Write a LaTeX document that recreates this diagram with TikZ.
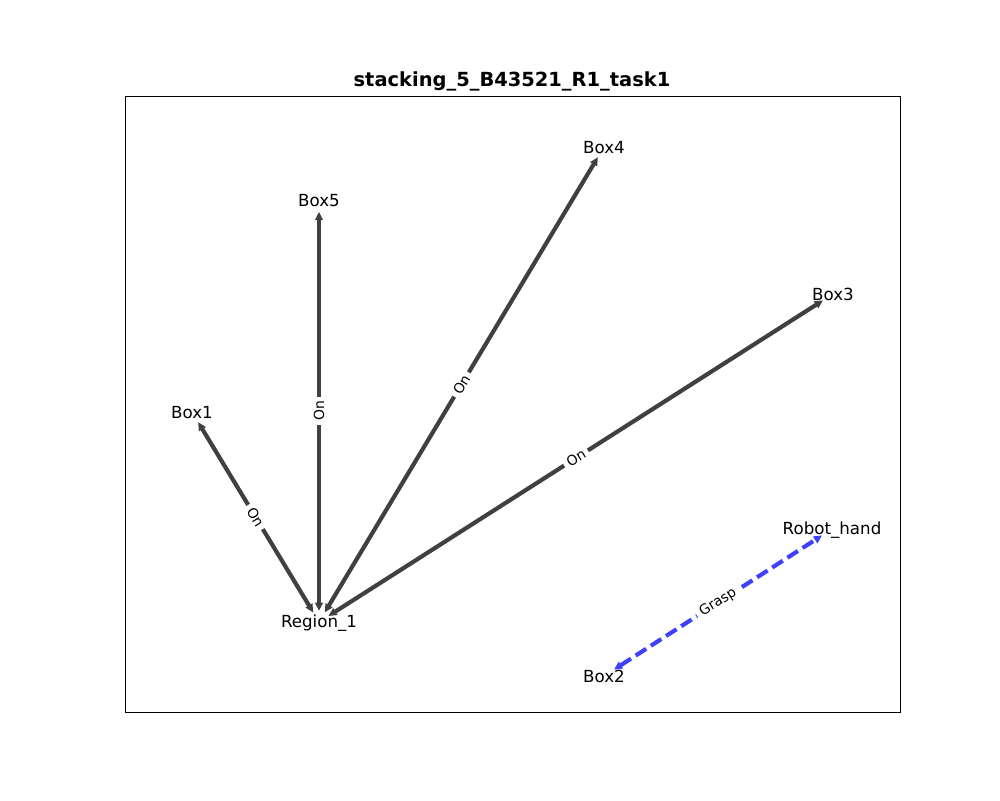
\documentclass[tikz,border=0pt]{standalone}
\usepackage{fontspec}
\setmainfont{DejaVu Sans}
\usetikzlibrary{arrows.meta}
\begin{document}
\begin{tikzpicture}[x=0.72pt,y=-0.72pt,
  lbl/.style={font=\fontsize{12}{14}\selectfont, inner sep=0pt},
  elbl/.style={font=\fontsize{10}{12}\selectfont, fill=white, inner sep=3pt, sloped, midway},
  onedge/.style={draw=black!75, line width=3pt, {Triangle[length=6pt,width=5.5pt]}-{Triangle[length=6pt,width=5.5pt]}, shorten <=8pt, shorten >=8.5pt},
  graspedge/.style={draw=blue!75, line width=3pt, dash pattern=on 9pt off 4pt, {Triangle[length=6pt,width=5.5pt]}-{Triangle[length=6pt,width=5.5pt]}, shorten <=8.5pt, shorten >=8.5pt},
  frame/.style={draw=black, line width=0.8pt}
]
\useasboundingbox (0,0) rectangle (1000,800);
\node[frame, minimum width=775*0.72pt, minimum height=616*0.72pt, inner sep=0pt, anchor=north west] (axes) at (125,96) {};
\node[font=\bfseries\fontsize{14}{17}\selectfont, inner sep=0pt] (title) at (512,81) {stacking\_5\_B43521\_R1\_task1};

\coordinate (region) at (319,622);
\coordinate (box1) at (192,412);
\coordinate (box5) at (319,200);
\coordinate (box4) at (604,147);
\coordinate (box3) at (833,294);
\coordinate (hand) at (832,529);
\coordinate (box2) at (604,676);

\node[lbl] (lregion) at (319,623) {Region\_1};
\node[lbl] (lbox1) at (192,413) {Box1};
\node[lbl] (lbox5) at (319,201) {Box5};
\node[lbl] (lbox4) at (604,148) {Box4};
\node[lbl] (lbox3) at (833,294) {Box3};
\node[lbl] (lhand) at (832,530) {Robot\_hand};
\node[lbl] (lbox2) at (604,676) {Box2};

\draw[onedge] (region) -- node[elbl] (e1) {On} (box1);
\draw[onedge] (region) -- node[elbl] (e5) {On} (box5);
\draw[onedge] (region) -- node[elbl] (e4) {On} (box4);
\draw[onedge] (region) -- node[elbl] (e3) {On} (box3);
\draw[graspedge] (box2) -- node[elbl] (eg) {Grasp} (hand);
\end{tikzpicture}
\end{document}
